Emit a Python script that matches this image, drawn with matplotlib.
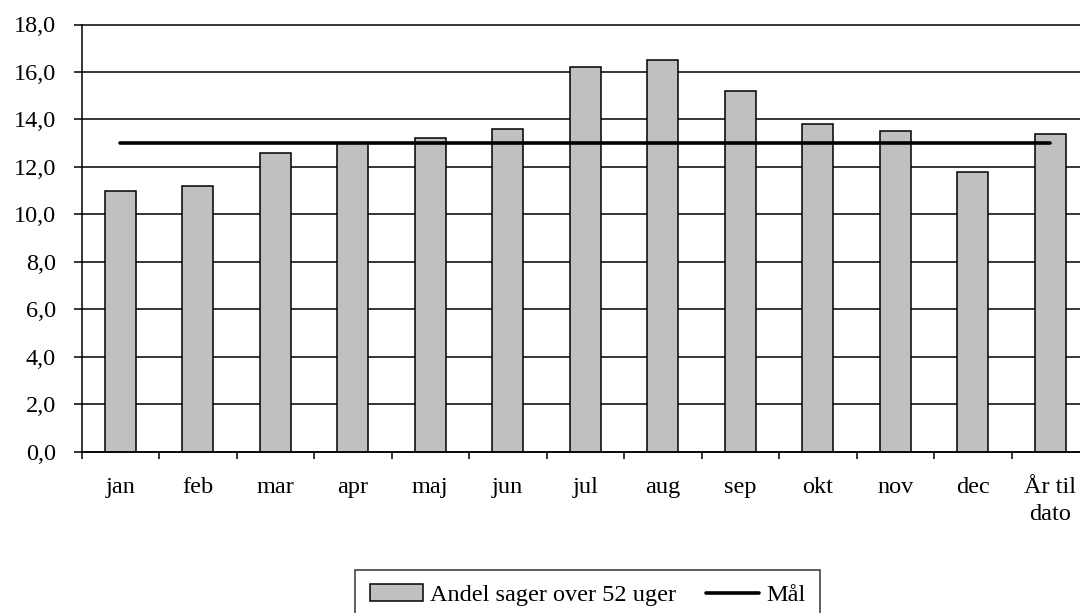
import numpy as np
import matplotlib
matplotlib.use("Agg")
import matplotlib.pyplot as plt

plt.rcParams['font.family'] = ['Liberation Serif', 'DejaVu Serif']

months = ['jan', 'feb', 'mar', 'apr', 'maj', 'jun', 'jul', 'aug', 'sep',
          'okt', 'nov', 'dec', 'År til\ndato']
andel = [11.0, 11.2, 12.6, 13.0, 13.2, 13.6, 16.2, 16.5, 15.2, 13.8, 13.5, 11.8, 13.4]
maal = [13.0] * len(months)
yticks = np.arange(0, 18.1, 2)

fig = plt.figure(figsize=(10.8, 6.13), dpi=100)
ax = fig.add_axes([81.6 / 1080, 1 - 451.7 / 613, (1089 - 81.6) / 1080, (451.7 - 24.5) / 613])

x = np.arange(len(months))
bars = ax.bar(x, andel, width=0.4, color='#C0C0C0', edgecolor='black', linewidth=1.1,
              zorder=2, label='Andel sager over 52 uger')
line, = ax.plot(x, maal, color='black', linewidth=2.6, solid_capstyle='round', zorder=3, label='Mål')

ax.set_xlim(-0.5, len(months) - 0.5)
ax.set_ylim(0, 18)
ax.set_yticks(yticks)
ax.set_yticklabels([f'{v:.1f}'.replace('.', ',') for v in yticks])
ax.yaxis.grid(True, color='black', linewidth=1.1, zorder=0)
ax.set_axisbelow(True)
for gl in ax.get_ygridlines():
    gl.set_clip_on(False)

ax.set_xticks(x)
ax.set_xticklabels(months, linespacing=1.4)
ax.set_xticks(np.arange(-0.5, len(months), 1), minor=True)
ax.tick_params(axis='x', which='major', length=0, pad=18, labelsize=17.5)
ax.tick_params(axis='x', which='minor', length=5, width=1.1, direction='out')
ax.tick_params(axis='y', length=5.5, width=1.1, pad=13, labelsize=17.5)

ax.spines['top'].set_visible(False)
ax.spines['right'].set_visible(False)
ax.spines['left'].set_linewidth(1.1)
ax.spines['bottom'].set_linewidth(1.1)

leg = fig.legend([bars, line], ['Andel sager over 52 uger', 'Mål'],
                 loc='upper left', bbox_to_anchor=(355 / 1080, 1 - 569.7 / 613),
                 ncol=2, fontsize=17.5, frameon=True, fancybox=False, shadow=False,
                 handlelength=2.2, handleheight=0.65, handletextpad=0.3,
                 columnspacing=1.2, borderpad=0.6, borderaxespad=0)
leg.get_frame().set_edgecolor('black')
leg.get_frame().set_linewidth(1.1)

fig.savefig('out.png', dpi=100)
